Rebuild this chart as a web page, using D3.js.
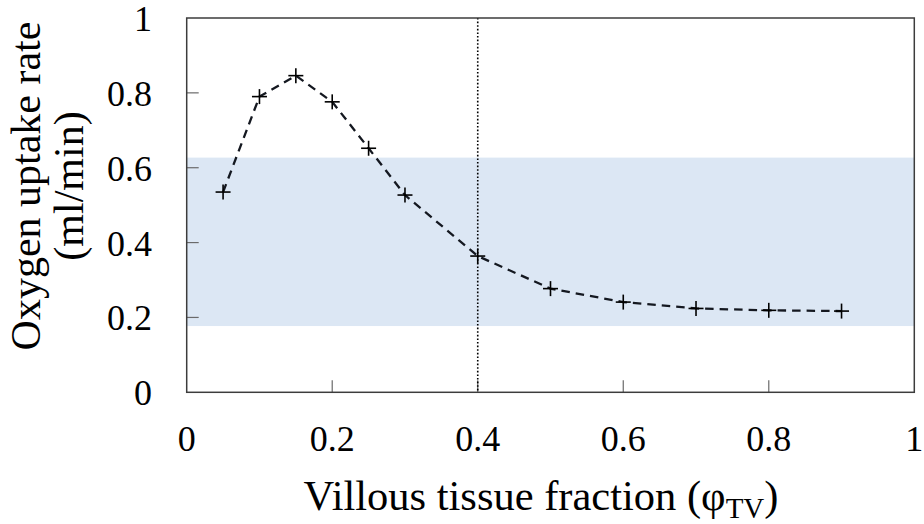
<!DOCTYPE html>
<html>
<head>
<meta charset="utf-8">
<script src="https://cdn.jsdelivr.net/npm/d3@7"></script>
<style>
  html, body { margin: 0; padding: 0; background: #fff; }
  svg { display: block; }
</style>
</head>
<body>
<svg id="chart" width="924" height="524"></svg>
<script>
// Villous tissue fraction (x) and oxygen uptake rate in ml/min (y)
const fractions = [0.05, 0.1, 0.15, 0.2, 0.25, 0.3, 0.4, 0.5, 0.6, 0.7, 0.8, 0.9];
const uptake = [0.535, 0.790, 0.846, 0.776, 0.652, 0.527, 0.364, 0.277, 0.241, 0.224, 0.219, 0.217];
// Physiological range shown as a band
const bandRange = [0.177, 0.627];
// Reference fraction marked with a vertical line
const markerFraction = 0.4;
const xTicks = [0, 0.2, 0.4, 0.6, 0.8, 1];
const yTicks = [0, 0.2, 0.4, 0.6, 0.8, 1];

const serif = "'Liberation Serif', 'Times New Roman', Tinos, Times, serif";
const svg = d3.select("#chart");
const plotLeft = 186.7, plotRight = 914.3, plotTop = 18, plotBottom = 392.3;

const x = d3.scaleLinear().domain([0, 1]).range([plotLeft, plotRight]);
const y = d3.scaleLinear().domain([0, 1]).range([plotBottom, plotTop]);
const fmt = d => d.toString();

// shaded band
svg.append("rect")
  .attr("x", x(0)).attr("width", x(1) - x(0))
  .attr("y", y(bandRange[1])).attr("height", y(bandRange[0]) - y(bandRange[1]))
  .attr("fill", "#dce7f4");

// inward ticks
const tickColor = "#6a6a6a";
svg.append("g")
  .selectAll("line").data(xTicks.slice(1, -1)).join("line")
  .attr("x1", d => x(d)).attr("x2", d => x(d))
  .attr("y1", plotBottom).attr("y2", plotBottom - 12)
  .attr("stroke", tickColor).attr("stroke-width", 1.2);
svg.append("g")
  .selectAll("line").data(yTicks.slice(1, -1)).join("line")
  .attr("x1", plotLeft).attr("x2", plotLeft + 12)
  .attr("y1", d => y(d)).attr("y2", d => y(d))
  .attr("stroke", tickColor).attr("stroke-width", 1.2);

// vertical dotted marker
svg.append("line")
  .attr("x1", x(markerFraction)).attr("x2", x(markerFraction))
  .attr("y1", plotTop).attr("y2", plotBottom)
  .attr("stroke", "#000").attr("stroke-width", 1.6)
  .attr("stroke-dasharray", "1.6,2");

// dashed data line
const line = d3.line()
  .x((d, i) => x(fractions[i]))
  .y(d => y(d));
svg.append("path")
  .datum(uptake)
  .attr("d", line)
  .attr("fill", "none")
  .attr("stroke", "#141820")
  .attr("stroke-width", 2.3)
  .attr("stroke-dasharray", "8.5,6");

// plus markers
const arm = 7.5;
const marks = svg.append("g").selectAll("g").data(uptake).join("g")
  .attr("transform", (d, i) => `translate(${x(fractions[i])},${y(d)})`);
marks.append("line").attr("x1", -arm).attr("x2", arm).attr("y1", 0).attr("y2", 0)
  .attr("stroke", "#000").attr("stroke-width", 1.6);
marks.append("line").attr("y1", -arm).attr("y2", arm).attr("x1", 0).attr("x2", 0)
  .attr("stroke", "#000").attr("stroke-width", 1.6);

// frame
svg.append("rect")
  .attr("x", plotLeft).attr("y", plotTop)
  .attr("width", plotRight - plotLeft).attr("height", plotBottom - plotTop)
  .attr("fill", "none").attr("stroke", "#3c3c3c").attr("stroke-width", 1.5);

// tick labels
svg.append("g").selectAll("text").data(xTicks).join("text")
  .attr("x", d => x(d)).attr("y", 451)
  .attr("text-anchor", "middle")
  .attr("font-family", serif)
  .attr("font-size", 36)
  .text(fmt);
svg.append("g").selectAll("text").data(yTicks).join("text")
  .attr("x", 152).attr("y", d => y(d) + 13)
  .attr("text-anchor", "end")
  .attr("font-family", serif)
  .attr("font-size", 36)
  .text(fmt);

// x axis title
const xt = svg.append("text")
  .attr("x", 541).attr("y", 510)
  .attr("text-anchor", "middle")
  .attr("font-family", serif)
  .attr("font-size", 42.5);
xt.append("tspan").text("Villous tissue fraction (φ");
xt.append("tspan").attr("dy", 8).attr("font-size", 29).text("TV");
xt.append("tspan").attr("dy", -8).text(")");

// y axis title (two lines)
const yt = svg.append("text")
  .attr("transform", `translate(40,186) rotate(-90)`)
  .attr("text-anchor", "middle")
  .attr("font-family", serif)
  .attr("font-size", 42);
yt.append("tspan").attr("x", 0).attr("dy", 0).text("Oxygen uptake rate");
yt.append("tspan").attr("x", 0).attr("dy", 43).text("(ml/min)");
</script>
</body>
</html>
